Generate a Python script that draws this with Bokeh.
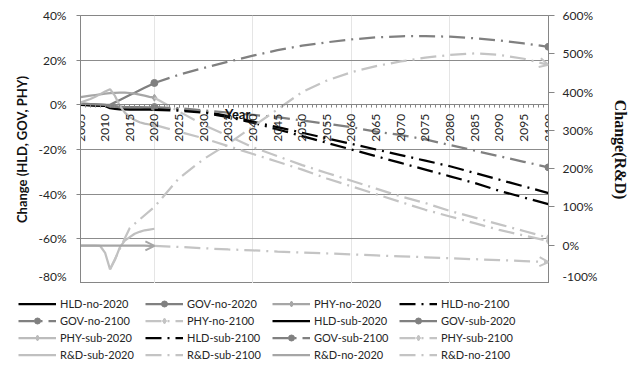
import math
from bokeh.plotting import figure
from bokeh.core.properties import value
from bokeh.models import (Range1d, LinearAxis, FixedTicker, PrintfTickFormatter, Legend,
                          LegendItem, Label, Arrow, OpenHead, Grid, CustomJSTickFormatter)
from bokeh.embed import file_html
from bokeh.resources import INLINE

# ---------------- data ----------------
years_2020 = [2005, 2006, 2007, 2008, 2009, 2010, 2011, 2012, 2013, 2014, 2015, 2016, 2017, 2018, 2019, 2020]
years_2100 = [2020, 2025, 2030, 2035, 2040, 2045, 2050, 2055, 2060, 2065, 2070, 2075, 2080, 2085, 2090, 2095, 2100]
years_rd_sub_2100 = [2011, 2015, 2020, 2025, 2030, 2035, 2040, 2045, 2050, 2055, 2060, 2065, 2070, 2075, 2080, 2085, 2090, 2095, 2100]

hld_no_2020 = [0.0, -0.1, -0.2, -0.3, -0.4, -0.5, -0.7, -0.8, -0.9, -1.0, -1.1, -1.2, -1.3, -1.4, -1.5, -1.5]
gov_no_2020 = [0.5, 0.4, 0.3, 0.2, 0.1, 0.0, 0.0, 1.1, 2.2, 3.3, 4.4, 5.4, 6.5, 7.6, 8.7, 9.8]
phy_no_2020 = [3.5, 3.8, 4.1, 4.4, 4.7, 5.0, 5.2, 5.4, 5.5, 5.5, 5.3, 5.0, 4.6, 4.1, 3.6, 3.2]
hld_no_2100 = [-1.5, -2.0, -3.0, -5.0, -7.5, -10.0, -12.5, -15.0, -17.5, -20.0, -22.5, -25.0, -27.5, -30.5, -33.5, -36.5, -39.5]
gov_no_2100 = [9.8, 13.5, 16.5, 19.3, 22.0, 24.5, 26.5, 28.0, 29.3, 30.2, 30.7, 30.8, 30.5, 29.8, 28.8, 27.5, 26.0]
phy_no_2100 = [3.2, -3.0, -9.0, -14.0, -19.0, -23.0, -27.0, -30.5, -34.0, -37.5, -41.0, -44.0, -47.5, -50.5, -53.5, -56.5, -59.5]
hld_sub_2020 = [0.0, 0.0, -0.1, -0.2, -0.3, -0.5, -1.5, -1.8, -2.0, -2.0, -2.1, -2.1, -2.2, -2.2, -2.2, -2.3]
gov_sub_2020 = [0.5, 0.4, 0.3, 0.2, 0.1, 0.0, -0.8, -0.9, -1.0, -1.0, -1.0, -1.1, -1.1, -1.1, -1.1, -1.0]
phy_sub_2020 = [1.0, 1.8, 2.6, 3.6, 4.8, 6.0, 7.0, 4.0, -0.5, -3.5, -5.5, -6.8, -7.8, -8.4, -8.8, -9.0]
hld_sub_2100 = [-2.3, -2.6, -3.5, -5.5, -8.0, -11.0, -14.0, -17.0, -20.0, -23.0, -26.0, -29.0, -32.0, -35.0, -38.5, -41.5, -44.5]
gov_sub_2100 = [-1.0, -1.5, -2.5, -3.5, -4.5, -5.5, -7.0, -8.5, -10.0, -12.0, -13.5, -15.5, -18.0, -20.5, -23.0, -25.5, -28.0]
phy_sub_2100 = [-9.0, -12.0, -15.0, -18.5, -22.0, -25.5, -29.0, -33.0, -36.5, -40.0, -43.5, -47.0, -50.0, -53.0, -56.0, -58.5, -61.0]
# R&D (right axis)
rd_sub_2020 = [-1.0, -1.0, -1.0, -1.0, -2.0, -20.0, -63.0, -38.0, -5.0, 12.0, 21.0, 30.0, 35.0, 39.0, 41.0, 43.0]
rd_sub_2100 = [-63.0, 45.0, 100.0, 175.0, 225.0, 265.0, 310.0, 355.0, 400.0, 430.0, 452.0, 468.0, 480.0, 490.0, 497.0, 501.0, 497.0, 487.0, 471.0]
rd_no_2020 = [-1.0, -1.0, -1.0, -1.0, -1.0, -1.0, -1.0, -1.0, -1.0, -1.0, -1.0, -1.0, -1.0, -1.0, -1.5, -1.5]
rd_no_2100 = [-1.5, -4.5, -8.0, -11.0, -13.5, -16.5, -19.0, -21.5, -24.0, -26.5, -29.0, -31.5, -34.0, -36.5, -39.0, -41.5, -44.0]

x_ticks = [2005, 2010, 2015, 2020, 2025, 2030, 2035, 2040, 2045, 2050, 2055, 2060, 2065, 2070, 2075, 2080, 2085, 2090, 2095, 2100]
x_labels = [str(t) for t in x_ticks]
left_ticks = [-80, -60, -40, -20, 0, 20, 40]
right_ticks = [-100, 0, 100, 200, 300, 400, 500, 600]

# ---------------- figure ----------------
FONT = "Lato"
AX = "#868686"
TXT = "#262626"

p = figure(width=632, height=283, output_backend="svg", toolbar_location=None,
           x_range=Range1d(2005, 2100), y_range=Range1d(-80, 40),
           min_border_left=80, min_border_right=84, min_border_top=15, min_border_bottom=0,
           x_axis_location=None, y_axis_location=None)
p.extra_y_ranges = {"rd": Range1d(-100, 600)}
p.outline_line_color = AX
p.background_fill_color = "white"
p.border_fill_color = "white"

# left axis
ly = LinearAxis(ticker=FixedTicker(ticks=left_ticks), formatter=PrintfTickFormatter(format="%d%%"),
                axis_label="Change (HLD, GOV, PHY)")
ly.axis_line_color = AX
ly.major_tick_line_color = AX
ly.major_tick_out = 4
ly.major_tick_in = 0
ly.minor_tick_line_color = None
ly.major_label_standoff = 10
ly.major_label_text_font = FONT
ly.major_label_text_font_size = "12px"
ly.major_label_text_color = TXT
ly.axis_label_text_font = FONT
ly.axis_label_text_font_style = "bold"
ly.axis_label_text_font_size = "13px"
ly.axis_label_text_color = "#111111"
ly.axis_label_standoff = 6
p.add_layout(ly, "left")

# right axis
ry = LinearAxis(y_range_name="rd", ticker=FixedTicker(ticks=right_ticks),
                formatter=PrintfTickFormatter(format="%d%%"), axis_label="Change(R&D)")
ry.axis_line_color = AX
ry.major_tick_line_color = AX
ry.major_tick_out = 6
ry.major_tick_in = 0
ry.minor_tick_line_color = None
ry.major_label_standoff = 8
ry.major_label_text_font = FONT
ry.major_label_text_font_size = "12px"
ry.major_label_text_color = TXT
ry.axis_label_text_font = "Liberation Serif"
ry.axis_label_text_font_style = "bold"
ry.axis_label_text_font_size = "16px"
ry.axis_label_text_color = "#111111"
ry.axis_label_standoff = 12
p.add_layout(ry, "right")

# x axis crossing at 0 (line + ticks); labels drawn as rotated text at the ticks
minor = list(range(2005, 2101))
bx = LinearAxis(ticker=FixedTicker(ticks=x_ticks, minor_ticks=minor), fixed_location=0,
                formatter=CustomJSTickFormatter(code="return ''"))
bx.axis_line_color = AX
bx.major_tick_line_color = AX
bx.minor_tick_line_color = AX
bx.major_tick_out = 3
bx.major_tick_in = 0
bx.minor_tick_out = 3
bx.minor_tick_in = 0
p.add_layout(bx, "below")

p.add_layout(Grid(dimension=1, ticker=ly.ticker, grid_line_color="#8c8c8c", grid_line_width=1))

DD = "16 6 2 6"
BLACK = "#000000"
GOV = "#808080"

series = [
    ("HLD-no-2020", years_2020, hld_no_2020, BLACK, "solid", None, "default"),
    ("GOV-no-2020", years_2020, gov_no_2020, GOV, "solid", "circle", "default"),
    ("PHY-no-2020", years_2020, phy_no_2020, "#a6a6a6", "solid", "diamond", "default"),
    ("HLD-no-2100", years_2100, hld_no_2100, BLACK, DD, None, "default"),
    ("GOV-no-2100", years_2100, gov_no_2100, GOV, DD, "circle", "default"),
    ("PHY-no-2100", years_2100, phy_no_2100, "#c4c4c4", DD, "diamond", "default"),
    ("HLD-sub-2020", years_2020, hld_sub_2020, BLACK, "solid", None, "default"),
    ("GOV-sub-2020", years_2020, gov_sub_2020, GOV, "solid", "circle", "default"),
    ("PHY-sub-2020", years_2020, phy_sub_2020, "#bcbcbc", "solid", "diamond", "default"),
    ("HLD-sub-2100", years_2100, hld_sub_2100, BLACK, DD, None, "default"),
    ("GOV-sub-2100", years_2100, gov_sub_2100, GOV, DD, "circle", "default"),
    ("PHY-sub-2100", years_2100, phy_sub_2100, "#c4c4c4", DD, "diamond", "default"),
    ("R&D-sub-2020", years_2020, rd_sub_2020, "#c0c0c0", "solid", None, "rd"),
    ("R&D-sub-2100", years_rd_sub_2100, rd_sub_2100, "#c4c4c4", DD, "arrow", "rd"),
    ("R&D-no-2020", years_2020, rd_no_2020, "#a6a6a6", "solid", "arrow", "rd"),
    ("R&D-no-2100", years_2100, rd_no_2100, "#c4c4c4", DD, "arrow", "rd"),
]

# legend strip below the chart (separate root so its frame spans the full width)
lf = figure(width=632, height=82, output_backend="svg", toolbar_location=None,
            x_range=Range1d(0, 1), y_range=Range1d(0, 1),
            min_border=0, x_axis_location=None, y_axis_location=None)
lf.outline_line_color = None
lf.xgrid.visible = False
lf.ygrid.visible = False
lf.background_fill_color = "white"
lf.border_fill_color = "white"

items = []
for name, xs, ys, color, dash, marker, rng in series:
    p.line(xs, ys, line_color=color, line_width=2.25, line_dash=dash, y_range_name=rng)
    # legend proxies (same data, outside the strip's ranges so only the legend shows them)
    rends = [lf.line(xs, ys, line_color=color, line_width=2.25, line_dash=dash)]
    if marker in ("circle", "diamond"):
        p.scatter([xs[-1]], [ys[-1]], marker=marker, size=7, fill_color=color,
                  line_color=color, y_range_name=rng)
        rends.append(lf.scatter([xs[-1]], [ys[-1]], marker=marker, size=7,
                                fill_color=color, line_color=color))
    elif marker == "arrow":
        p.add_layout(Arrow(end=OpenHead(size=9, line_color=color, line_width=2),
                           x_start=xs[-2], y_start=ys[-2], x_end=xs[-1], y_end=ys[-1],
                           line_alpha=0, y_range_name=rng))
    items.append(LegendItem(label=name, renderers=rends))

# x tick labels (rotated, reading upward) and axis title
p.text(x=x_ticks, y=[0] * len(x_ticks), text=x_labels, angle=math.pi / 2,
       text_align="right", text_baseline="middle", y_offset=9,
       text_font=value(FONT), text_font_size="12px", text_color=TXT)
p.add_layout(Label(x=2036.9, y=-0.3, text="Year", text_font=FONT, text_font_style="bold",
                   text_font_size="13px", text_align="center", text_baseline="top",
                   text_color="#111111"))

legend = Legend(items=items, orientation="horizontal", ncols=4,
                location=(18, 3), margin=0, padding=0,
                glyph_width=38, glyph_height=15, label_height=15, label_width=83,
                label_standoff=4, spacing=2,
                label_text_font=FONT, label_text_font_size="11px", label_text_color=TXT,
                background_fill_alpha=0, border_line_color=None)
lf.add_layout(legend, "center")

open("out.html", "w").write(file_html([p, lf], INLINE))
